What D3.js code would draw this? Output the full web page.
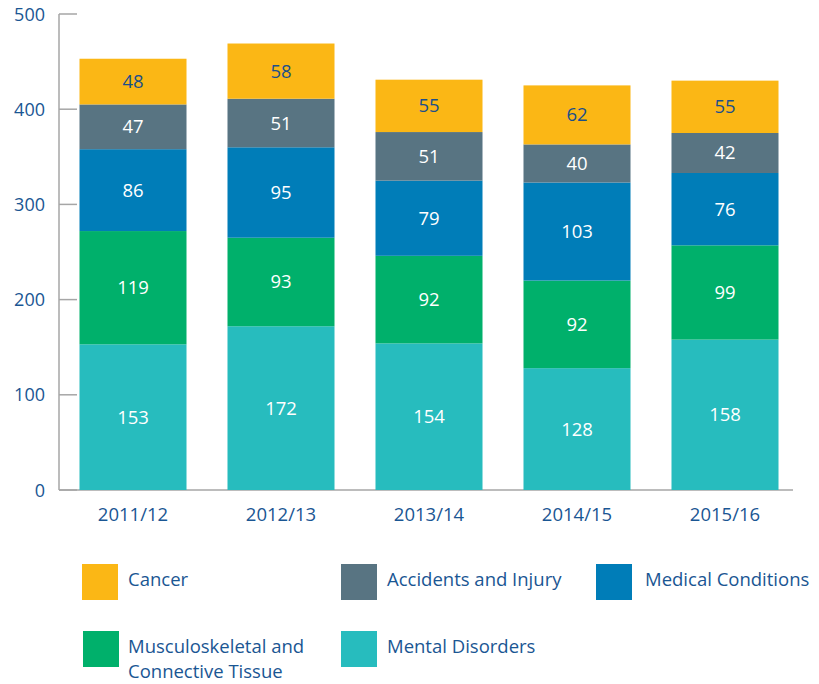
<!DOCTYPE html>
<html lang="en">
<head>
  <meta charset="UTF-8">
  <title>Stacked bars by year</title>
  <script src="https://d3js.org/d3.v7.min.js"></script>
  <style>
    body { margin: 0; background: #fff; }
    text { font-family: "Open Sans", "Noto Sans", sans-serif; }
    .tick-label { font-size: 18px; fill: #1a5693; }
    .x-label { font-size: 18.5px; fill: #1a5693; }
    .val { font-size: 18.5px; text-anchor: middle; }
    .legend-text { font-size: 18.5px; fill: #1a5693; }
  </style>
</head>
<body>
  <div id="chart"></div>
  <script>
    const years = ["2011/12", "2012/13", "2013/14", "2014/15", "2015/16"];
    const categories = ["Mental Disorders", "Musculoskeletal and Connective Tissue", "Medical Conditions", "Accidents and Injury", "Cancer"];
    const mental = [153, 172, 154, 128, 158];
    const musculo = [119, 93, 92, 92, 99];
    const medical = [86, 95, 79, 103, 76];
    const accidents = [47, 51, 51, 40, 42];
    const cancer = [48, 58, 55, 62, 55];
    const yTicks = [0, 100, 200, 300, 400, 500];
    const colors = ["#27bcbe", "#00b06b", "#007db8", "#587482", "#fbb715"];
    const labelColors = ["#fff", "#fff", "#fff", "#fff", "#1b4f8a"];

    const series = [mental, musculo, medical, accidents, cancer];
    const table = years.map((yr, i) => {
      const row = { year: yr };
      categories.forEach((c, k) => row[c] = series[k][i]);
      return row;
    });
    const stacked = d3.stack().keys(categories)(table);

    const W = 819, H = 684;
    const svg = d3.select("#chart").append("svg")
      .attr("width", W).attr("height", H);

    const x = d3.scaleBand()
      .domain(years)
      .range([59, 799])
      .paddingInner(0.277)
      .paddingOuter(0.1385);

    const y = d3.scaleLinear()
      .domain([0, 500])
      .range([490, 14]);

    // axes
    svg.append("line")
      .attr("x1", 59).attr("x2", 59)
      .attr("y1", y(500)).attr("y2", y(0))
      .attr("stroke", "#a6a6a6").attr("stroke-width", 1.5);
    svg.append("line")
      .attr("x1", 59).attr("x2", 793)
      .attr("y1", y(0)).attr("y2", y(0))
      .attr("stroke", "#a6a6a6").attr("stroke-width", 1.5);

    svg.selectAll(".ytick")
      .data(yTicks)
      .enter()
      .append("line")
      .attr("x1", 59).attr("x2", 77)
      .attr("y1", d => y(d)).attr("y2", d => y(d))
      .attr("stroke", "#a6a6a6").attr("stroke-width", 1.5);

    svg.selectAll(".ylab")
      .data(yTicks)
      .enter()
      .append("text")
      .attr("class", "tick-label")
      .attr("x", 45)
      .attr("y", d => y(d) + 6.5)
      .attr("text-anchor", "end")
      .text(d => d);

    svg.selectAll(".xlab")
      .data(years)
      .enter()
      .append("text")
      .attr("class", "x-label")
      .attr("x", d => x(d) + x.bandwidth() / 2)
      .attr("y", 521)
      .attr("text-anchor", "middle")
      .text(d => d);

    // bars
    const layers = svg.selectAll(".layer")
      .data(stacked)
      .enter()
      .append("g")
      .attr("fill", (d, i) => colors[i]);

    layers.selectAll("rect")
      .data(d => d)
      .enter()
      .append("rect")
      .attr("x", d => x(d.data.year))
      .attr("y", d => y(d[1]))
      .attr("width", x.bandwidth())
      .attr("height", d => y(d[0]) - y(d[1]));

    stacked.forEach((s, i) => {
      svg.selectAll(".val" + i)
        .data(s)
        .enter()
        .append("text")
        .attr("class", "val")
        .attr("fill", labelColors[i])
        .attr("x", d => x(d.data.year) + x.bandwidth() / 2)
        .attr("y", d => (y(d[0]) + y(d[1])) / 2 + 6.5)
        .text(d => d[1] - d[0]);
    });

    // legend
    const legendItems = [
      { idx: 4, x: 82, y: 564, tx: 46, lines: ["Cancer"] },
      { idx: 3, x: 341, y: 564, tx: 46, lines: ["Accidents and Injury"] },
      { idx: 2, x: 596, y: 564, tx: 49, lines: ["Medical Conditions"] },
      { idx: 1, x: 83, y: 631, tx: 45, lines: ["Musculoskeletal and", "Connective Tissue"] },
      { idx: 0, x: 341, y: 631, tx: 46, lines: ["Mental Disorders"] }
    ];

    const lg = svg.selectAll(".legend")
      .data(legendItems)
      .enter()
      .append("g")
      .attr("transform", d => `translate(${d.x}, ${d.y})`);

    lg.append("rect")
      .attr("width", 36).attr("height", 36)
      .attr("fill", d => colors[d.idx]);

    lg.each(function(d) {
      const t = d3.select(this).append("text")
        .attr("class", "legend-text")
        .attr("y", 22);
      d.lines.forEach((ln, j) => {
        t.append("tspan")
          .attr("x", d.tx)
          .attr("dy", j === 0 ? 0 : 25)
          .text(ln);
      });
    });
  </script>
</body>
</html>
